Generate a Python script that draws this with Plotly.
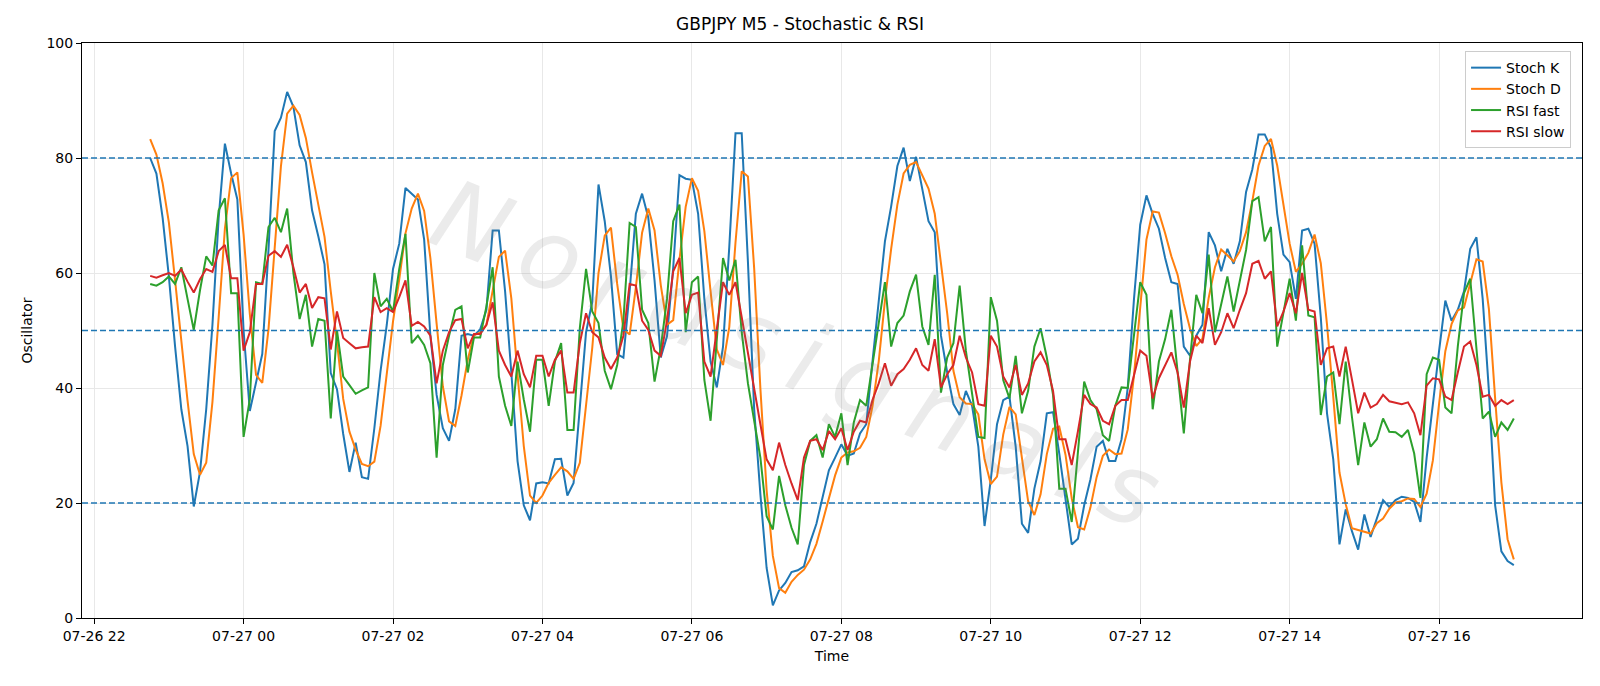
import pandas as pd
import plotly.graph_objects as go

start_time = "2024-07-26 22:45"
n_points = 220
times = pd.date_range(start_time, periods=n_points, freq="5min")

stoch_k = [80, 77.3, 69.6, 59.4, 47.2, 36.3, 29.9, 19.4, 25.4, 36.3,
           51, 69.6, 82.5, 77.3, 72.8, 50, 36, 40.8, 45.9, 64,
           84.7, 87, 91.5, 88.9, 82.2, 79.3, 70.9, 66.4, 61.5, 42.6,
           39.8, 32, 25.4, 30.5, 24.5, 24.2, 33, 43, 51, 60.7,
           65.1, 74.8, 73.8, 72.8, 65.8, 49.1, 38.8, 33, 30.8, 36.3,
           49.1, 49.4, 49.1, 50.2, 53.6, 67.4, 67.4, 56.8, 42.7, 27.3,
           19.6, 17, 23.4, 23.6, 23.4, 27.6, 27.7, 21.3, 23.5, 36.3,
           49.7, 55, 75.4, 69, 59.4, 45.9, 45.3, 56.8, 70.3, 73.8,
           69.6, 58.7, 45.3, 49, 61, 77, 76.4, 76.2, 70.3, 55.5,
           44.6, 40.1, 47.2, 64.5, 84.3, 84.3, 61.9, 36.3, 21.5, 8.7,
           2.2, 4.8, 6.1, 8, 8.3, 9, 13.2, 16.4, 20.9, 25.7,
           27.9, 30.2, 28.2, 28.6, 32.1, 33.7, 44.6, 55.5, 65.5, 71.6,
           78.6, 81.8, 76, 80.2, 74.8, 69, 67.1, 49.1, 42.7, 37.2,
           35.3, 39.5, 36.9, 29.8, 16, 24, 33.7, 37.9, 38.5, 29.8,
           16.4, 14.8, 22.5, 27.3, 35.6, 35.8, 28.6, 20.9, 12.8, 13.8,
           19.6, 24.1, 29.8, 30.8, 27.3, 27.3, 31.1, 40.1, 55.5, 68.4,
           73.5, 70.3, 67.7, 62.6, 58.4, 58.1, 47.2, 45.6, 49.1, 51,
           67.1, 64.8, 60.3, 64.2, 61.6, 65.5, 74.1, 78, 84.1, 84.1,
           81.8, 70.3, 63.2, 61.9, 55.5, 67.4, 67.7, 65.1, 52.3, 35.6,
           27.6, 12.8, 18.9, 15.1, 11.9, 18, 14.1, 17.3, 20.5, 19.3,
           20.5, 21.1, 20.9, 20.2, 16.7, 27.9, 37.5, 46.5, 55.2, 51.7,
           53.6, 56.8, 64.2, 66.2, 55.5, 39.5, 19.6, 11.6, 9.9, 9.2]

stoch_d = [83.3, 80.6, 75.6, 68.8, 58.7, 47.6, 37.8, 28.5, 24.9, 27.0,
           37.6, 52.3, 67.7, 76.5, 77.5, 66.7, 52.9, 42.3, 40.9, 50.2,
           64.9, 78.6, 87.7, 89.1, 87.5, 83.5, 77.5, 72.2, 66.3, 56.8,
           48.0, 38.1, 32.4, 29.3, 26.8, 26.4, 27.2, 33.4, 42.3, 51.6,
           58.9, 66.9, 71.2, 73.8, 70.8, 62.6, 51.2, 40.3, 34.2, 33.4,
           38.7, 44.9, 49.2, 49.6, 51.0, 57.1, 62.8, 63.9, 55.6, 42.3,
           29.9, 21.3, 20.0, 21.3, 23.5, 24.9, 26.2, 25.5, 24.2, 27.0,
           36.5, 47.0, 60.0, 66.5, 67.9, 58.1, 50.2, 49.3, 57.5, 67.0,
           71.2, 67.4, 57.9, 51.0, 51.8, 62.3, 71.5, 76.5, 74.3, 67.3,
           56.8, 46.7, 44.0, 50.6, 65.3, 77.7, 76.8, 60.8, 39.9, 22.2,
           10.8, 5.2, 4.4, 6.3, 7.5, 8.4, 10.2, 12.9, 16.8, 21.0,
           24.8, 27.9, 28.8, 29.0, 29.6, 31.5, 36.8, 44.6, 55.2, 64.2,
           71.9, 77.3, 78.8, 79.3, 77.0, 74.7, 70.3, 61.7, 53.0, 43.0,
           38.4, 37.3, 37.2, 35.4, 27.6, 23.3, 24.6, 31.9, 36.7, 35.4,
           28.2, 20.3, 17.9, 21.5, 28.5, 32.9, 33.3, 28.4, 20.8, 15.8,
           15.4, 19.2, 24.5, 28.2, 29.3, 28.5, 28.6, 32.8, 42.2, 54.7,
           65.8, 70.7, 70.5, 66.9, 62.9, 59.7, 54.6, 50.3, 47.3, 48.6,
           55.7, 61.0, 64.1, 63.1, 62.0, 63.8, 67.1, 72.5, 78.7, 82.1,
           83.3, 78.7, 71.8, 65.1, 60.2, 61.6, 63.5, 66.7, 61.7, 51.0,
           38.5, 25.3, 19.8, 15.6, 15.3, 15.0, 14.7, 16.5, 17.3, 19.0,
           20.1, 20.3, 20.8, 20.7, 19.3, 21.6, 27.4, 37.3, 46.4, 51.1,
           53.5, 54.0, 58.2, 62.4, 62.0, 53.7, 38.2, 23.6, 13.7, 10.2]

rsi_fast = [58.1, 57.8, 58.4, 59.4, 58.1, 61, 55.5, 50.1, 57, 62.9,
            61.3, 70.9, 73, 56.5, 56.5, 31.5, 38, 58.4, 58.1, 68,
            69.6, 67.1, 71.2, 60, 52, 56.2, 47.2, 52, 51.7, 34.7,
            50, 42, 40.5, 39, 39.6, 40.1, 60, 54.2, 55.5, 53.3,
            60.7, 66.8, 47.8, 49.1, 47.5, 44.3, 27.9, 44, 49.1, 53.6,
            54.2, 42.7, 48.8, 48.8, 54.2, 61, 42, 36.9, 33.4, 44.6,
            38, 32.4, 44.9, 44.9, 36.9, 44.6, 47.8, 32.7, 32.7, 50.4,
            60.7, 53.3, 51.3, 43, 39.8, 44, 51.7, 68.7, 68, 53.6,
            51.3, 41.1, 47, 55.5, 69, 71.9, 49.7, 58.4, 59.4, 41.4,
            34.3, 48, 62.6, 58.7, 62.3, 49.7, 40.8, 34.3, 27.9, 17.7,
            15.4, 24.7, 19.6, 15.7, 12.8, 26.6, 30.8, 31.8, 27.9, 33.7,
            31.5, 35.6, 26.6, 34, 37.9, 36.9, 44, 51, 58.4, 47.2,
            51.3, 52.6, 56.8, 59.7, 50.7, 47.5, 59.7, 39.2, 45.3, 47.8,
            57.8, 46.5, 38.8, 31.5, 31.3, 55.8, 51.7, 41.4, 38.2, 45.6,
            35.6, 39.5, 47.2, 50.4, 45.3, 38.8, 22.5, 22.5, 16.7, 29,
            41.1, 37.9, 36.3, 31.8, 30.8, 36.9, 40.1, 40, 49.1, 58.4,
            56.2, 36.3, 44.6, 48.5, 53.6, 43, 32.1, 45, 56.2, 53,
            63.2, 49.7, 54.5, 59.4, 53.3, 58.5, 64, 72.5, 73.2, 65.5,
            68, 47.2, 53, 59, 51.7, 64.8, 52.6, 52.3, 35.3, 42,
            42.7, 33.7, 44.6, 35, 26.6, 34, 29.8, 31.1, 34.7, 32.4,
            32.3, 31.5, 32.7, 28.6, 20.9, 42.4, 45.3, 44.9, 36.6, 35.6,
            47.2, 56.5, 59, 46.5, 34.7, 35.9, 31.5, 34, 32.7, 34.7]

rsi_slow = [59.5, 59.2, 59.6, 60, 59.5, 60.6, 58.5, 56.6, 58.9, 60.7,
            60.2, 63.8, 64.9, 59.1, 59.1, 46.5, 49.7, 58.1, 58.1, 63,
            63.8, 62.8, 64.9, 61, 56.6, 58.1, 53.9, 55.8, 55.6, 46.7,
            53.3, 48.7, 47.8, 46.9, 47.1, 47.2, 55.8, 53.2, 53.9, 53.2,
            55.8, 58.7, 50.8, 51.5, 50.7, 49.1, 40.8, 46.5, 49.7, 51.8,
            52, 46.9, 49.4, 49.4, 51, 54.9, 46.5, 44, 42, 46.5,
            42.4, 40.1, 45.6, 45.6, 42, 44.9, 46.5, 39.2, 39.2, 47.8,
            53, 49.7, 48.8, 45.3, 43.3, 45.3, 49.1, 58.1, 57.8, 51.7,
            50.1, 46.5, 45.6, 51.7, 60.3, 62.6, 53, 56.2, 56.6, 44.6,
            42, 50.1, 58.4, 56.2, 58.4, 52.3, 45.9, 39.5, 33.7, 27.6,
            25.7, 30.5, 26.6, 23.4, 20.5, 27.9, 30.8, 31.1, 29.2, 32.5,
            31.1, 33, 29.2, 32.4, 34.3, 34, 37.9, 40.8, 44.3, 40.4,
            42.4, 43.3, 44.9, 46.9, 44, 43, 48.5, 40.1, 42.4, 44,
            49.1, 45.3, 42.7, 37.2, 36.9, 49.1, 47.2, 42, 40.1, 44,
            38.8, 40.8, 44.6, 46.2, 44, 39.5, 31.1, 31.1, 26.6, 32.5,
            38.8, 37.2, 36.6, 34.3, 33.7, 36.9, 37.9, 37.9, 42, 46.5,
            45.6, 38.2, 41.7, 44, 46.2, 42.7, 36.6, 44.6, 49.1, 47.8,
            53.9, 47.5, 49.7, 53, 50.4, 53.6, 56.5, 61.6, 62.1, 59,
            60.3, 50.7, 53.3, 56.5, 53, 60, 53.6, 53.3, 44, 46.9,
            47.2, 42, 47.2, 41.5, 35.6, 39.2, 36.6, 37.2, 38.8, 37.7,
            37.5, 37.2, 37.5, 35.6, 31.8, 40.4, 41.7, 41.5, 38.5, 37.9,
            42.7, 47.2, 48.1, 44, 38.5, 38.8, 36.9, 37.9, 37.2, 37.9]

levels = [80, 50, 20]
series_names = ["Stoch K", "Stoch D", "RSI fast", "RSI slow"]
series_colors = ["#1f77b4", "#ff7f0e", "#2ca02c", "#d62728"]
series_values = [stoch_k, stoch_d, rsi_fast, rsi_slow]
watermark = "Nordsignals"

FONT = "DejaVu Sans"

fig = go.Figure()
for name, color, vals in zip(series_names, series_colors, series_values):
    fig.add_trace(go.Scatter(x=times, y=vals, mode="lines", name=name,
                             line=dict(color=color, width=2)))

for lv in levels:
    fig.add_shape(type="line", xref="paper", x0=0, x1=1, yref="y", y0=lv, y1=lv,
                  line=dict(color="#1f77b4", width=1.5, dash="6px,3px"), layer="above")

fig.add_annotation(text="\u2009".join(watermark), xref="paper", yref="paper",
                   x=0.476, y=0.46, showarrow=False, textangle=22,
                   font=dict(family=FONT, size=98, color="rgba(120,120,120,0.15)", style="italic"))

fig.update_layout(
    width=1600, height=686,
    margin=dict(l=82, r=18, t=43, b=68),
    paper_bgcolor="white", plot_bgcolor="white",
    font=dict(family=FONT, size=14, color="black"),
    title=dict(text="GBPJPY M5 - Stochastic & RSI", x=0.5, xanchor="center",
               y=1 - 24.5 / 686, yanchor="middle", yref="container",
               font=dict(family=FONT, size=17, color="black")),
    showlegend=True,
    legend=dict(x=0.9927, y=0.986, xanchor="right", yanchor="top",
                bgcolor="rgba(255,255,255,0.85)", bordercolor="#cccccc", borderwidth=1,
                font=dict(family=FONT, size=14)),
)

fig.update_xaxes(
    range=["2024-07-26 21:50:15", "2024-07-27 17:54:45"],
    tick0="2024-07-26 22:00", dtick=7200000, tickformat="%m-%d %H",
    showgrid=True, gridcolor="#e8e8e8", gridwidth=1,
    ticks="outside", ticklen=5, tickcolor="black",
    showline=True, linecolor="black", linewidth=1, mirror=True,
    zeroline=False,
    title=dict(text="Time", font=dict(family=FONT, size=14), standoff=8),
)
fig.update_yaxes(
    range=[0, 100], tickvals=[0, 20, 40, 60, 80, 100],
    showgrid=True, gridcolor="#e8e8e8", gridwidth=1,
    ticks="outside", ticklen=5, tickcolor="black",
    showline=True, linecolor="black", linewidth=1, mirror=True,
    zeroline=False,
    title=dict(text="Oscillator", font=dict(family=FONT, size=14), standoff=10),
)

fig.write_html("out.html")
